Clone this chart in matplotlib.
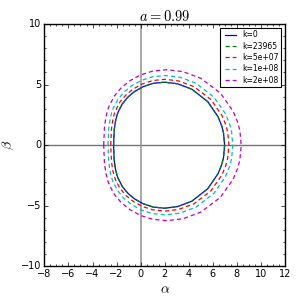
import numpy as np
import matplotlib
matplotlib.use('Agg')
import matplotlib.pyplot as plt
from matplotlib.ticker import AutoMinorLocator

# upper half of each shadow outline (alpha, beta)
alpha_k0 = [-2.25, -2.20, -2.17, -2.08, -1.98, -1.87, -1.53, -1.07, -0.49, 0.21,
            1.03, 1.98, 3.06, 4.26, 5.58, 6.44, 6.74, 6.89, 6.98]
beta_k0 = [0.00, 1.20, 1.45, 2.02, 2.43, 2.74, 3.40, 3.96, 4.44, 4.83,
           5.10, 5.20, 5.07, 4.62, 3.59, 2.34, 1.60, 1.01, 0.00]

alpha_k1 = [-2.25, -2.20, -2.17, -2.08, -1.98, -1.87, -1.53, -1.07, -0.49, 0.21,
            1.03, 1.98, 3.06, 4.26, 5.58, 6.44, 6.74, 6.89, 6.98]
beta_k1 = [0.00, 1.20, 1.45, 2.02, 2.43, 2.74, 3.40, 3.96, 4.44, 4.83,
           5.10, 5.20, 5.07, 4.62, 3.59, 2.34, 1.60, 1.01, 0.00]

alpha_k2 = [-2.49, -2.43, -2.40, -2.31, -2.20, -2.08, -1.72, -1.23, -0.61, 0.13,
            1.00, 2.02, 3.16, 4.44, 5.85, 6.76, 7.08, 7.24, 7.34]
beta_k2 = [0.00, 1.26, 1.52, 2.11, 2.54, 2.87, 3.56, 4.14, 4.64, 5.05,
           5.33, 5.44, 5.30, 4.83, 3.76, 2.45, 1.67, 1.06, 0.00]

alpha_k3 = [-2.71, -2.66, -2.62, -2.52, -2.41, -2.29, -1.90, -1.39, -0.73, 0.05,
            0.97, 2.04, 3.26, 4.60, 6.09, 7.05, 7.39, 7.56, 7.66]
beta_k3 = [0.00, 1.33, 1.60, 2.23, 2.69, 3.03, 3.76, 4.38, 4.91, 5.34,
           5.64, 5.75, 5.61, 5.11, 3.97, 2.59, 1.77, 1.12, 0.00]

alpha_k4 = [-3.07, -3.01, -2.98, -2.86, -2.74, -2.60, -2.18, -1.61, -0.89, -0.03,
            0.99, 2.17, 3.51, 4.99, 6.63, 7.69, 8.06, 8.25, 8.36]
beta_k4 = [0.00, 1.44, 1.74, 2.42, 2.91, 3.28, 4.07, 4.74, 5.32, 5.79,
           6.11, 6.23, 6.07, 5.53, 4.30, 2.80, 1.92, 1.21, 0.00]

labels = ['k=0', 'k=23965', 'k=5e+07', 'k=1e+08', 'k=2e+08']
colores = ['b', 'g', 'r', 'c', 'm']
estilos = ['-', '--', '--', '--', '--']

curvas = [(alpha_k0, beta_k0), (alpha_k1, beta_k1), (alpha_k2, beta_k2),
          (alpha_k3, beta_k3), (alpha_k4, beta_k4)]

plt.style.use('classic')
fig = plt.figure(figsize=(3, 3), dpi=100)
ax = fig.add_axes([0.148, 0.112, 0.802, 0.808])

ax.axhline(0, color='0.45', lw=1, zorder=1)
ax.axvline(0, color='0.6', lw=1.2, zorder=1)

for (a, b), lab, col, ls in zip(curvas, labels, colores, estilos):
    a = np.asarray(a)
    b = np.asarray(b)
    # cerrar la curva con la mitad inferior reflejada
    x = np.concatenate([a, a[::-1]])
    y = np.concatenate([b, -b[::-1]])
    linea, = ax.plot(x, y, color=col, ls=ls, lw=0.9, label=lab, zorder=2)
    if ls == '--':
        linea.set_dashes((3, 2.2))

ax.set_xlim(-8, 12)
ax.set_ylim(-10, 10)
ax.set_xticks(np.arange(-8, 13, 2))
ax.set_yticks([-10, -5, 0, 5, 10])
ax.xaxis.set_minor_locator(AutoMinorLocator(4))
ax.yaxis.set_minor_locator(AutoMinorLocator(5))
ax.tick_params(labelsize=7, direction='in', length=3, pad=2, top=True, right=True)
ax.tick_params(which='minor', length=1.5, top=True, right=True)

ax.set_xlabel(r'$\alpha$', fontsize=10, labelpad=2)
ax.set_ylabel(r'$\beta$', fontsize=10, labelpad=4)
ax.set_title(r'$a=0.99$', fontsize=10.5, pad=2)

leg = ax.legend(loc='upper right', fontsize=5.5, handlelength=2.0, numpoints=2,
                borderpad=0.35, labelspacing=0.3, handletextpad=0.5,
                fancybox=False)
leg.get_frame().set_linewidth(0.8)

fig.savefig('out.png', dpi=100, facecolor='white')
